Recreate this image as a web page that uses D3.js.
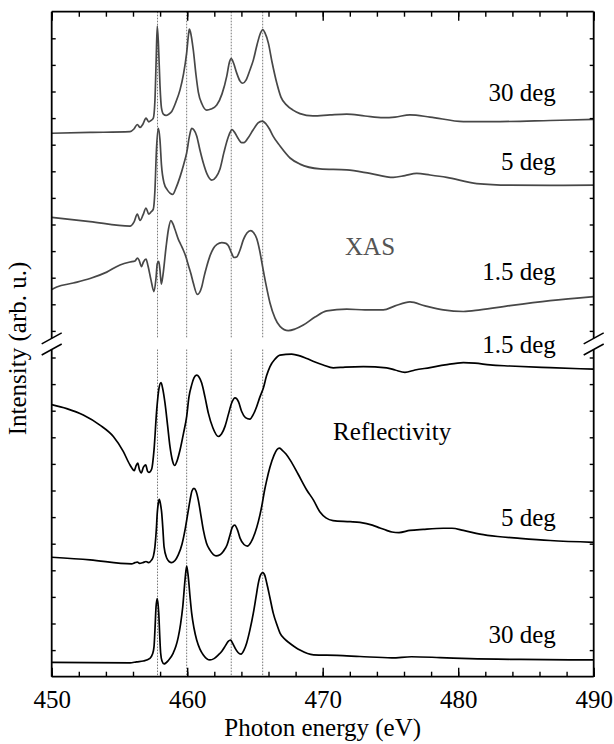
<!DOCTYPE html>
<html>
<head>
<meta charset="utf-8">
<script src="https://cdnjs.cloudflare.com/ajax/libs/d3/7.8.5/d3.min.js"></script>
<style>
  body { margin: 0; background: #fff; }
  svg text { font-family: "Liberation Serif", "Tinos", "DejaVu Serif", serif !important; }
</style>
</head>
<body>
<svg></svg>
<script>
// photon energy (eV), intensity (arb. u., spectra offset)
const xas30 = [[450.00,20.43],[452.83,20.46],[455.78,20.49],[456.07,20.59],[456.32,20.76],[456.52,20.65],[456.74,20.78],[456.96,21.00],[457.16,20.86],[457.33,20.91],[457.50,21.00],[457.62,21.68],[457.71,23.18],[457.79,24.46],[457.88,23.75],[457.99,22.24],[458.10,21.38],[458.24,21.15],[458.44,21.10],[458.62,21.14],[458.86,21.25],[459.17,21.61],[459.47,22.06],[459.73,22.66],[459.96,23.45],[460.10,24.16],[460.16,24.35],[460.24,24.24],[460.45,23.56],[460.65,22.62],[460.82,21.98],[461.09,21.53],[461.44,21.30],[461.76,21.34],[462.18,21.49],[462.57,21.91],[462.92,22.58],[463.12,23.11],[463.25,23.24],[463.42,23.07],[463.65,22.70],[463.90,22.39],[464.10,22.31],[464.34,22.43],[464.63,22.81],[464.88,23.18],[465.15,23.75],[465.41,24.20],[465.57,24.33],[465.74,24.20],[465.99,23.82],[466.26,23.11],[466.61,22.32],[466.92,21.79],[467.34,21.49],[467.81,21.30],[468.32,21.17],[469.28,21.08],[470.54,21.12],[471.77,21.15],[473.12,21.08],[474.47,21.02],[475.34,21.04],[476.44,21.12],[477.92,21.04],[480.38,20.87],[483.09,20.87],[486.78,20.91],[490.00,20.95]];

const xas5 = [[450.00,17.27],[452.83,17.11],[455.78,16.94],[456.07,17.09],[456.32,17.39],[456.52,17.15],[456.74,17.36],[456.96,17.62],[457.16,17.39],[457.33,17.47],[457.50,17.58],[457.62,18.30],[457.73,19.80],[457.87,20.61],[457.99,20.18],[458.10,19.24],[458.29,18.56],[458.53,18.30],[458.73,18.18],[458.93,18.13],[459.17,18.37],[459.47,18.79],[459.73,19.24],[459.96,19.69],[460.17,20.33],[460.33,20.61],[460.50,20.55],[460.70,20.33],[460.94,19.80],[461.19,19.31],[461.46,18.90],[461.81,18.67],[462.13,18.79],[462.42,19.09],[462.72,19.73],[463.03,20.29],[463.31,20.57],[463.53,20.44],[463.79,20.21],[464.01,20.08],[464.19,20.08],[464.49,20.25],[464.86,20.55],[465.23,20.82],[465.54,20.89],[465.82,20.78],[466.07,20.59],[466.35,20.31],[466.85,19.95],[467.59,19.50],[468.32,19.27],[469.80,19.09],[471.77,19.05],[473.49,18.92],[475.21,18.77],[476.07,18.84],[476.94,18.92],[477.92,18.86],[479.15,18.77],[481.37,18.54],[483.82,18.48],[486.78,18.47],[490.00,18.48]];

const xas15 = [[450.00,14.56],[450.37,14.65],[451.59,14.80],[452.83,14.97],[454.06,15.21],[455.04,15.48],[455.78,15.59],[456.15,15.63],[456.33,15.74],[456.44,15.67],[456.63,15.42],[456.77,15.59],[456.96,15.70],[457.11,15.44],[457.33,14.91],[457.55,14.48],[457.70,14.99],[457.79,15.52],[457.90,15.61],[457.99,15.29],[458.09,14.76],[458.21,15.10],[458.44,16.15],[458.62,16.83],[458.80,17.15],[458.95,17.02],[459.10,16.81],[459.34,16.45],[459.54,16.23],[459.71,16.04],[459.91,15.78],[460.08,15.48],[460.28,15.14],[460.45,14.80],[460.75,14.37],[461.07,14.65],[461.24,15.03],[461.44,15.42],[461.68,15.82],[461.93,16.10],[462.20,16.25],[462.55,16.32],[462.86,16.29],[463.03,16.21],[463.27,15.93],[463.45,15.76],[463.65,15.78],[463.90,16.04],[464.14,16.42],[464.41,16.68],[464.69,16.77],[464.89,16.70],[465.13,16.47],[465.34,16.04],[465.57,15.40],[465.82,14.73],[466.11,14.05],[466.48,13.48],[466.85,13.17],[467.46,13.01],[467.96,13.07],[468.57,13.22],[469.43,13.52],[470.30,13.75],[471.77,13.82],[473.12,13.79],[474.47,13.79],[475.34,13.94],[476.44,14.09],[477.55,13.94],[478.90,13.79],[480.38,13.73],[481.61,13.79],[483.82,13.95],[486.78,14.14],[490.00,14.29]];

const refl15 = [[450.00,10.23],[451.11,10.08],[452.33,9.84],[453.56,9.46],[454.55,9.03],[455.28,8.47],[455.78,7.96],[456.10,7.75],[456.22,7.92],[456.35,8.03],[456.48,7.77],[456.61,7.66],[456.77,7.88],[456.94,7.96],[457.07,7.73],[457.18,7.68],[457.38,7.81],[457.55,8.52],[457.75,10.03],[457.92,10.85],[458.07,11.06],[458.21,10.78],[458.36,10.29],[458.55,9.46],[458.73,8.65],[458.92,8.11],[459.08,7.94],[459.25,8.11],[459.47,8.52],[459.73,9.16],[459.96,9.78],[460.13,10.52],[460.33,10.97],[460.50,11.23],[460.70,11.34],[460.87,11.27],[461.07,11.04],[461.31,10.52],[461.56,9.91],[461.90,9.35],[462.30,9.03],[462.53,9.12],[462.79,9.41],[463.05,9.88],[463.28,10.29],[463.53,10.48],[463.79,10.33],[464.02,9.97],[464.30,9.74],[464.63,9.68],[464.86,9.84],[465.13,10.16],[465.37,10.52],[465.62,10.85],[465.85,11.30],[466.11,11.66],[466.48,11.94],[466.85,12.09],[467.71,12.13],[468.32,12.06],[468.82,11.96],[469.43,11.83],[470.04,11.72],[470.78,11.61],[471.65,11.64],[473.00,11.66],[474.72,11.61],[475.34,11.53],[476.07,11.44],[476.81,11.53],[477.92,11.62],[479.03,11.72],[480.38,11.81],[481.24,11.79],[482.35,11.72],[483.82,11.68],[486.78,11.62],[490.00,11.56]];

const refl5 = [[450.00,4.49],[452.83,4.39],[455.90,4.24],[456.15,4.29],[456.32,4.31],[456.48,4.26],[456.74,4.29],[456.96,4.33],[457.14,4.29],[457.38,4.39],[457.51,4.54],[457.62,4.89],[457.72,5.52],[457.79,6.15],[457.87,6.53],[457.94,6.67],[458.03,6.49],[458.12,6.15],[458.21,5.52],[458.29,4.89],[458.49,4.46],[458.66,4.33],[458.86,4.29],[459.10,4.37],[459.34,4.58],[459.62,4.99],[459.84,5.52],[460.06,6.19],[460.21,6.64],[460.35,6.98],[460.50,7.08],[460.65,6.98],[460.82,6.64],[461.02,6.04],[461.19,5.52],[461.42,5.03],[461.68,4.76],[462.13,4.54],[462.42,4.58],[462.66,4.71],[462.94,4.95],[463.16,5.33],[463.34,5.63],[463.51,5.70],[463.71,5.52],[463.90,5.21],[464.19,4.97],[464.44,4.91],[464.71,5.06],[465.00,5.40],[465.26,5.85],[465.50,6.40],[465.70,6.98],[465.87,7.39],[466.11,7.88],[466.41,8.33],[466.63,8.54],[466.80,8.59],[467.00,8.52],[467.29,8.37],[467.59,8.15],[468.18,7.62],[468.82,7.02],[469.32,6.64],[469.80,6.19],[470.24,5.97],[470.76,5.87],[472.02,5.83],[472.75,5.80],[473.66,5.70],[474.23,5.59],[474.72,5.50],[475.11,5.44],[475.63,5.42],[476.44,5.50],[477.42,5.54],[478.90,5.58],[479.54,5.58],[480.38,5.50],[481.61,5.36],[482.91,5.27],[484.56,5.20],[486.78,5.12],[490.00,5.05]];

const refl30 = [[450.00,0.54],[452.83,0.53],[455.78,0.52],[456.27,0.56],[456.76,0.59],[457.25,0.69],[457.44,0.85],[457.55,1.12],[457.62,1.76],[457.70,2.62],[457.79,2.94],[457.90,2.39],[457.97,1.57],[458.04,0.89],[458.14,0.59],[458.29,0.48],[458.61,0.61],[458.97,0.89],[459.17,1.15],[459.34,1.49],[459.51,1.98],[459.67,2.62],[459.84,3.64],[459.96,4.16],[460.08,3.75],[460.21,3.00],[460.33,2.39],[460.50,1.83],[460.70,1.38],[460.94,1.04],[461.19,0.82],[461.68,0.63],[461.98,0.68],[462.30,0.82],[462.57,0.97],[462.79,1.14],[463.01,1.32],[463.21,1.38],[463.34,1.27],[463.53,1.08],[463.75,0.91],[463.97,0.85],[464.19,1.00],[464.39,1.27],[464.63,1.76],[464.88,2.39],[465.08,3.00],[465.25,3.52],[465.41,3.82],[465.57,3.91],[465.74,3.79],[465.87,3.52],[466.11,2.96],[466.35,2.39],[466.63,1.94],[466.85,1.64],[467.22,1.40],[467.59,1.25],[468.32,1.00],[469.32,0.82],[471.05,0.80],[472.75,0.76],[475.10,0.71],[476.55,0.75],[478.66,0.72],[480.87,0.68],[484.56,0.65],[490.00,0.63]];

const seriesNames = ["30 deg", "5 deg", "1.5 deg", "1.5 deg", "5 deg", "30 deg"];
const groupNames = ["XAS", "Reflectivity"];
const peakLines = [457.81, 459.96, 463.25, 465.57];
const xMajorTicks = [450, 460, 470, 480, 490];
const xMinorTicks = d3.range(450, 491, 2);
const yTicks = d3.range(1, 25);
const breakHigh = 12.72, breakLow = 12.30;

const svgWidth = 614, svgHeight = 744;
const margin = {top: 11.7, right: 20.3, bottom: 67.3, left: 51.7};
const w = svgWidth - margin.left - margin.right;
const h = svgHeight - margin.top - margin.bottom;
const serif = '"Liberation Serif", "Tinos", "DejaVu Serif", serif';

const svg = d3.select("svg")
  .attr("width", svgWidth)
  .attr("height", svgHeight)
  .attr("font-family", serif);

const g = svg.append("g")
  .attr("transform", "translate(" + margin.left + "," + margin.top + ")");

const x = d3.scaleLinear().domain([450, 490]).range([0, w]);
const y = d3.scaleLinear().domain([0, 25]).range([h, 0]);

// dotted peak markers, interrupted at the axis break
peakLines.forEach(function(e) {
  [[25, breakHigh], [breakLow, 0]].forEach(function(seg) {
    g.append("line")
      .attr("x1", x(e)).attr("x2", x(e))
      .attr("y1", y(seg[0])).attr("y2", y(seg[1]))
      .attr("stroke", "#555")
      .attr("stroke-width", 0.8)
      .attr("stroke-dasharray", "1.6,1.4");
  });
});

const line = d3.line()
  .x(d => x(d[0]))
  .y(d => y(d[1]))
  .curve(d3.curveMonotoneX);

const curves = [
  {data: xas30, color: "#474747"},
  {data: xas5, color: "#474747"},
  {data: xas15, color: "#474747"},
  {data: refl15, color: "#000"},
  {data: refl5, color: "#000"},
  {data: refl30, color: "#000"}
];

g.selectAll("path.curve")
  .data(curves)
  .enter()
  .append("path")
  .attr("class", "curve")
  .attr("d", d => line(d.data))
  .attr("fill", "none")
  .attr("stroke", d => d.color)
  .attr("stroke-width", 1.7)
  .attr("stroke-linejoin", "round");

// axes: ticks point inward
function styleAxis(sel) {
  sel.select(".domain").remove();
  sel.attr("font-family", serif);
  sel.selectAll("line").attr("stroke", "#000").attr("stroke-width", 1.4);
}

g.append("g")
  .attr("transform", "translate(0," + h + ")")
  .call(d3.axisBottom(x).tickValues(xMinorTicks).tickSize(-5).tickFormat(""))
  .call(styleAxis);
const xb = g.append("g")
  .attr("transform", "translate(0," + h + ")")
  .call(d3.axisBottom(x).tickValues(xMajorTicks).tickSize(-9).tickFormat(d3.format("d")))
  .call(styleAxis);
xb.selectAll("text")
  .attr("y", 31.6)
  .attr("dy", null)
  .attr("font-size", 25)
  .attr("fill", "#000");

g.append("g")
  .call(d3.axisTop(x).tickValues(xMinorTicks).tickSize(-5).tickFormat(""))
  .call(styleAxis);
g.append("g")
  .call(d3.axisTop(x).tickValues(xMajorTicks).tickSize(-9).tickFormat(""))
  .call(styleAxis);

g.append("g")
  .call(d3.axisLeft(y).tickValues(yTicks).tickSize(-4).tickFormat(""))
  .call(styleAxis);
g.append("g")
  .attr("transform", "translate(" + w + ",0)")
  .call(d3.axisRight(y).tickValues(yTicks).tickSize(-4).tickFormat(""))
  .call(styleAxis);

// frame with the broken vertical spines
const frame = g.append("g").attr("stroke", "#000").attr("stroke-width", 1.8).attr("fill", "none");
frame.append("line").attr("x1", 0).attr("x2", w).attr("y1", 0).attr("y2", 0);
frame.append("line").attr("x1", 0).attr("x2", w).attr("y1", h).attr("y2", h);
[0, w].forEach(function(px) {
  frame.append("line").attr("x1", px).attr("x2", px).attr("y1", 0).attr("y2", y(breakHigh));
  frame.append("line").attr("x1", px).attr("x2", px).attr("y1", y(breakLow)).attr("y2", h);
  [breakHigh, breakLow].forEach(function(b) {
    frame.append("line")
      .attr("stroke-width", 1.5)
      .attr("x1", px - 10).attr("y1", y(b) + 5.5)
      .attr("x2", px + 10).attr("y2", y(b) - 5.5);
  });
});

// curve and group labels
const labelPos = [[487.2, 21.64], [487.2, 19.05], [487.2, 14.91], [487.2, 12.17], [487.2, 5.65], [487.2, 1.27]];
g.selectAll("text.series")
  .data(seriesNames)
  .enter()
  .append("text")
  .attr("class", "series")
  .attr("x", (d, i) => x(labelPos[i][0]))
  .attr("y", (d, i) => y(labelPos[i][1]))
  .attr("text-anchor", "end")
  .attr("font-size", 25)
  .attr("fill", "#000")
  .text(d => d);

g.append("text")
  .attr("x", x(471.65)).attr("y", y(15.85))
  .attr("font-size", 25).attr("fill", "#555")
  .text(groupNames[0]);
g.append("text")
  .attr("x", x(470.77)).attr("y", y(8.90))
  .attr("font-size", 25).attr("fill", "#000")
  .text(groupNames[1]);

// axis titles
g.append("text")
  .attr("x", w / 2).attr("y", h + 59.5)
  .attr("text-anchor", "middle")
  .attr("font-size", 25)
  .text("Photon energy (eV)");
g.append("text")
  .attr("transform", "translate(" + (26 - margin.left) + "," + (348.5 - margin.top) + ") rotate(-90)")
  .attr("text-anchor", "middle")
  .attr("font-size", 25)
  .text("Intensity (arb. u.)");
</script>
</body>
</html>
